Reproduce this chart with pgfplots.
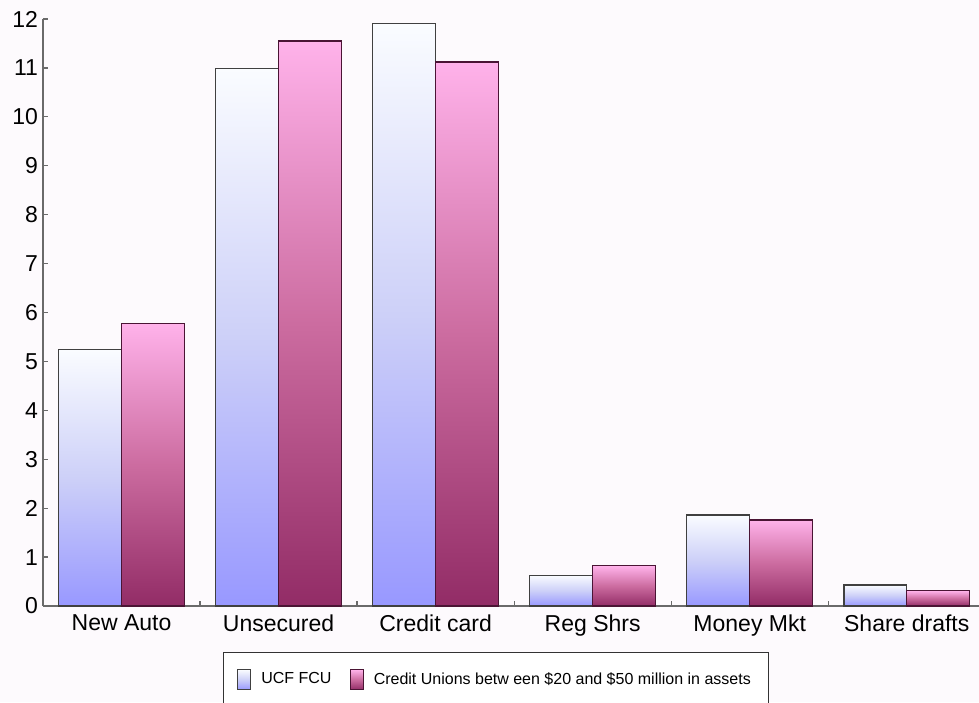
\documentclass[border=0pt]{standalone}
\usepackage{fontspec}
\setmainfont{Liberation Sans}
\usepackage{pgfplots}
\pgfplotsset{compat=1.18}
\usetikzlibrary{backgrounds}
\definecolor{bgc}{HTML}{FDFAFD}
\definecolor{axc}{HTML}{6A6A6A}
\definecolor{ucftop}{HTML}{FAFCFF}
\definecolor{ucfmid}{HTML}{CDD0F8}
\definecolor{ucfbot}{HTML}{9898FF}
\definecolor{cutop}{HTML}{FFB2EA}
\definecolor{cumid}{HTML}{CC6CA0}
\definecolor{cubot}{HTML}{922C66}
\definecolor{cuedge}{HTML}{4A1434}
\begin{document}
\begin{tikzpicture}
\begin{axis}[
  name=ax,
  scale only axis,
  width=468pt, height=293.5pt,
  ybar=0pt, bar width=0.4,
  xmin=-0.5, xmax=5.46,
  ymin=0, ymax=12,
  ytick={0,1,...,12},
  xtick={0,1,2,3,4,5},
  xticklabels={New Auto,Unsecured,Credit card,Reg Shrs,Money Mkt,Share drafts},
  minor xtick={0.5,1.5,2.5,3.5,4.5},
  every major x tick/.append style={draw=none},
  major tick length=2.5pt, minor tick length=2.5pt,
  tick align=inside,
  axis x line*=bottom, axis y line*=left,
  axis line style={axc, line width=0.6pt},
  tick style={axc, line width=0.6pt},
  /pgf/number format/assume math mode=true,
  tick label style={font=\fontsize{11.5}{13}\selectfont},
  yticklabel style={xshift=1pt},
  xticklabel style={yshift=-1pt},
  legend style={at={(0.484,-0.078)}, anchor=north, legend columns=-1,
    draw=black!80, line width=0.5pt, fill=white,
    inner xsep=7pt, inner ysep=8pt,
    font=\fontsize{8}{10}\selectfont,
    /tikz/every even column/.append style={column sep=7pt},
    /tikz/every odd column/.append style={column sep=3pt}},
  legend image code/.code={\draw[#1] (0pt,-5pt) rectangle (6.5pt,5pt);},
  ucf/.style={draw=black!75, line width=0.6pt, top color=ucftop, bottom color=ucfbot, middle color=ucfmid, bar shift=-0.2},
  cu/.style={draw=cuedge, line width=0.6pt, top color=cutop, bottom color=cubot, middle color=cumid, bar shift=0.2},
]
% one plot per bar so that each bar gets its own gradient
\addplot[ucf] coordinates {(0,5.24)};
\addplot[cu] coordinates {(0,5.77)};
\addplot[ucf, forget plot] coordinates {(1,10.98)};
\addplot[ucf, forget plot] coordinates {(2,11.90)};
\addplot[ucf, forget plot] coordinates {(3,0.63)};
\addplot[ucf, forget plot] coordinates {(4,1.86)};
\addplot[ucf, forget plot] coordinates {(5,0.43)};
\addplot[cu, forget plot] coordinates {(1,11.55)};
\addplot[cu, forget plot] coordinates {(2,11.12)};
\addplot[cu, forget plot] coordinates {(3,0.82)};
\addplot[cu, forget plot] coordinates {(4,1.76)};
\addplot[cu, forget plot] coordinates {(5,0.31)};
\legend{UCF FCU, Credit Unions betw een \$20 and \$50 million in assets}
\end{axis}
\pgfresetboundingbox
\path ([xshift=-21.5pt,yshift=-48pt]ax.south west) coordinate (bl)
      ([yshift=9.5pt]ax.north east) coordinate (tr);
\useasboundingbox (bl) rectangle (tr);
\begin{scope}[on background layer]
  \fill[bgc] (bl) rectangle (tr);
\end{scope}
\end{tikzpicture}
\end{document}
